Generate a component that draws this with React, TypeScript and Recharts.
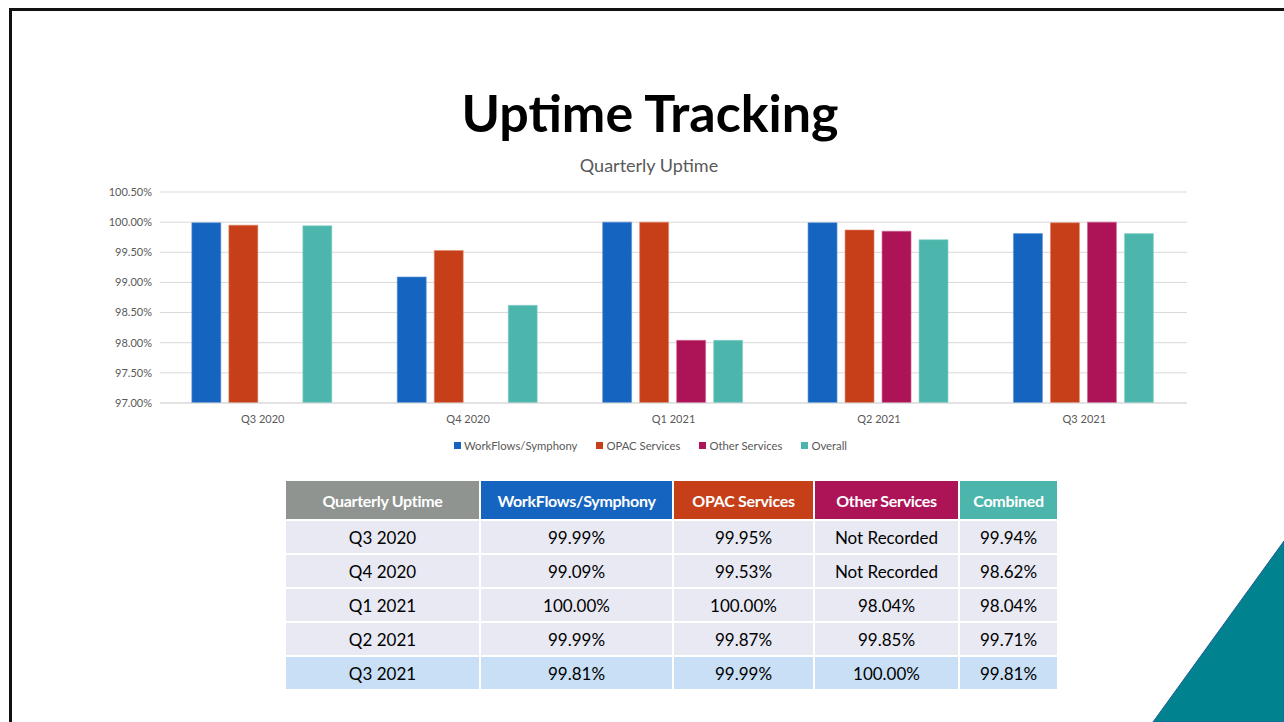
import { BarChart, Bar, XAxis, YAxis, CartesianGrid, Legend } from 'recharts';

const quarters = ['Q3 2020', 'Q4 2020', 'Q1 2021', 'Q2 2021', 'Q3 2021'];
const seriesNames = ['WorkFlows/Symphony', 'OPAC Services', 'Other Services', 'Overall'];
const workflows = [99.99, 99.09, 100.0, 99.99, 99.81];
const opac = [99.95, 99.53, 100.0, 99.87, 99.99];
const other: (number | null)[] = [null, null, 98.04, 99.85, 100.0];
const overall = [99.94, 98.62, 98.04, 99.71, 99.81];
const yTicks = [97, 97.5, 98, 98.5, 99, 99.5, 100, 100.5];

const data = quarters.map((q, i) => ({
  quarter: q,
  workflows: workflows[i],
  opac: opac[i],
  other: other[i],
  overall: overall[i],
}));

const BLUE = '#1565C0';
const ORANGE = '#C63F18';
const MAGENTA = '#AD1457';
const TEAL = '#4DB6AC';
const FONT = 'Lato, "Noto Sans", sans-serif';

const pct = (v: number | null) => (v == null ? 'Not Recorded' : v.toFixed(2) + '%');

const colWidths = [193, 191, 139, 143, 97];
const headers = [
  { label: 'Quarterly Uptime', bg: '#8F9491' },
  { label: 'WorkFlows/Symphony', bg: BLUE },
  { label: 'OPAC Services', bg: ORANGE },
  { label: 'Other Services', bg: MAGENTA },
  { label: 'Combined', bg: TEAL },
];

// legend with the slide's wider item spacing
function renderLegend(props: any) {
  const items = [...(props.payload || [])].sort(
    (a: any, b: any) => seriesNames.indexOf(a.value) - seriesNames.indexOf(b.value)
  );
  return (
    <div
      style={{
        display: 'flex',
        justifyContent: 'center',
        gap: 19,
        fontSize: 11.3,
        color: '#595959',
        fontFamily: FONT,
        paddingLeft: 24,
      }}>
      {items.map((it: any) => (
        <span
          key={it.value}
          style={{ display: 'flex', alignItems: 'center', gap: 3 }}>
          <span
            style={{
              display: 'inline-block',
              width: 7,
              height: 7,
              background: it.color,
            }}
          />
          {it.value}
        </span>
      ))}
    </div>
  );
}

export default function App() {
  return (
    <div
      style={{
        position: 'absolute',
        left: 0,
        top: 0,
        width: 1284,
        height: 722,
        overflow: 'hidden',
        background: '#fff',
        fontFamily: FONT,
      }}>
      {/* slide frame */}
      <div
        style={{
          position: 'absolute',
          left: 9,
          top: 8,
          width: 1300,
          height: 800,
          borderLeft: '3px solid #111',
          borderTop: '3px solid #111',
        }}
      />
      <svg
        width={1284}
        height={722}
        style={{ position: 'absolute', left: 0, top: 0 }}>
        <polygon
          points='1284,541 1284,722 1153,722'
          fill='#00838F'
          stroke='#1F5C9A'
          strokeWidth={1}
        />
      </svg>

      <div
        style={{
          position: 'absolute',
          left: 0,
          width: 1300,
          top: 79,
          textAlign: 'center',
          fontSize: 52,
          fontWeight: 700,
          color: '#000',
          lineHeight: '66px',
        }}>
        Uptime Tracking
      </div>
      <div
        style={{
          position: 'absolute',
          left: 0,
          width: 1298,
          top: 153,
          textAlign: 'center',
          fontSize: 18,
          color: '#595959',
          lineHeight: '24px',
        }}>
        Quarterly Uptime
      </div>

      <div style={{ position: 'absolute', left: 90, top: 180 }}>
        <BarChart
          width={1110}
          height={290}
          data={data}
          margin={{ top: 12, right: 13, left: 0, bottom: 5 }}
          barCategoryGap='15.5%'
          barGap={8}>
          <CartesianGrid
            vertical={false}
            stroke='#D9D9D9'
          />
          <XAxis
            dataKey='quarter'
            axisLine={{ stroke: '#D9D9D9' }}
            tickLine={false}
            height={36}
            tick={{ fontSize: 11, fill: '#595959', fontFamily: FONT, dy: 4 }}
          />
          <YAxis
            domain={[97, 100.5]}
            ticks={yTicks}
            width={70}
            axisLine={false}
            tickLine={false}
            allowDataOverflow
            tickFormatter={(v: number) => v.toFixed(2) + '%'}
            tick={{ fontSize: 11, fill: '#595959', fontFamily: FONT }}
          />
          <Legend
            verticalAlign='bottom'
            height={26}
            content={renderLegend}
          />
          <Bar
            dataKey='workflows'
            name={seriesNames[0]}
            fill={BLUE}
            stroke='#5B93D6'
            strokeWidth={0.6}
            isAnimationActive={false}
          />
          <Bar
            dataKey='opac'
            name={seriesNames[1]}
            fill={ORANGE}
            stroke='#E08A6E'
            strokeWidth={0.6}
            isAnimationActive={false}
          />
          <Bar
            dataKey='other'
            name={seriesNames[2]}
            fill={MAGENTA}
            stroke='#D06A94'
            strokeWidth={0.6}
            isAnimationActive={false}
          />
          <Bar
            dataKey='overall'
            name={seriesNames[3]}
            fill={TEAL}
            stroke='#8AD3CB'
            strokeWidth={0.6}
            isAnimationActive={false}
          />
        </BarChart>
      </div>

      <div
        style={{
          position: 'absolute',
          left: 286,
          top: 481,
          display: 'flex',
          flexDirection: 'column',
          gap: 2,
        }}>
        <div style={{ display: 'flex', gap: 2 }}>
          {headers.map((h, j) => (
            <div
              key={h.label}
              style={{
                width: colWidths[j],
                height: 38,
                background: h.bg,
                color: '#fff',
                fontWeight: 700,
                fontSize: 16,
                letterSpacing: -0.3,
                display: 'flex',
                alignItems: 'center',
                justifyContent: 'center',
              }}>
              {h.label}
            </div>
          ))}
        </div>
        {quarters.map((q, i) => {
          const cells = [q, pct(workflows[i]), pct(opac[i]), pct(other[i]), pct(overall[i])];
          const bg = i === quarters.length - 1 ? '#C8DFF5' : '#E8E9F3';
          return (
            <div key={q} style={{ display: 'flex', gap: 2 }}>
              {cells.map((c, j) => (
                <div
                  key={j}
                  style={{
                    width: colWidths[j],
                    height: 32,
                    background: bg,
                    color: '#000',
                    fontSize: 17,
                    display: 'flex',
                    alignItems: 'center',
                    justifyContent: 'center',
                  }}>
                  {c}
                </div>
              ))}
            </div>
          );
        })}
      </div>
    </div>
  );
}
